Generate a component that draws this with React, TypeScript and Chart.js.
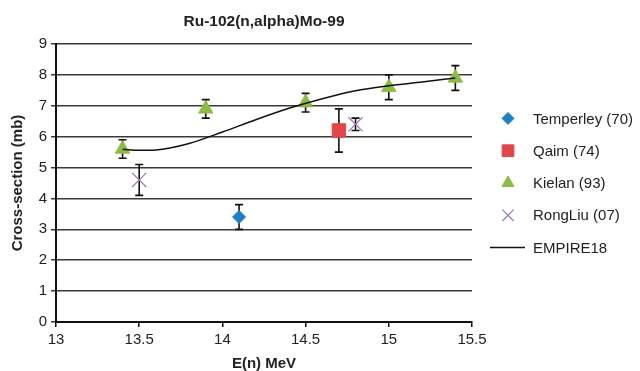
import React, { useEffect, useRef } from 'react';
import Chart from 'chart.js/auto';
import { drawPoint } from 'chart.js/helpers';

// ---- data ----
const chartTitle = 'Ru-102(n,alpha)Mo-99';
const xTitle = 'E(n) MeV';
const yTitle = 'Cross-section (mb)';
const xTickValues = [13, 13.5, 14, 14.5, 15, 15.5];
const yTickValues = [0, 1, 2, 3, 4, 5, 6, 7, 8, 9];

const temperleyX = [14.1];
const temperleyY = [3.4];
const temperleyErr = [0.4];

const qaimX = [14.7];
const qaimY = [6.2];
const qaimErr = [0.7];

const kielanX = [13.4, 13.9, 14.5, 15.0, 15.4];
const kielanY = [5.6, 6.9, 7.1, 7.6, 7.9];
const kielanErr = [0.3, 0.3, 0.3, 0.4, 0.4];

const rongLiuX = [13.5, 14.8];
const rongLiuY = [4.6, 6.4];
const rongLiuErr = [0.5, 0.2];

const empireX = [13.4, 13.5, 13.6, 13.8, 14.0, 14.2, 14.4, 14.6, 14.8, 15.0, 15.2, 15.4];
const empireY = [5.59, 5.56, 5.57, 5.78, 6.15, 6.55, 6.92, 7.23, 7.49, 7.65, 7.77, 7.9];

const seriesNames = ['Temperley (70)', 'Qaim (74)', 'Kielan (93)', 'RongLiu (07)', 'EMPIRE18'];

const FONT = '"Liberation Sans", Arial, Helvetica, sans-serif';

const zip = (xs: number[], ys: number[]) => xs.map((x, i) => ({ x, y: ys[i] }));

const errorBarPlugin = {
  id: 'errorBars',
  beforeDatasetsDraw(chart: any) {
    const { ctx, scales } = chart;
    const xs = scales.x;
    const ys = scales.y;
    ctx.save();
    ctx.strokeStyle = '#111';
    ctx.lineWidth = 1.6;
    chart.data.datasets.forEach((ds: any) => {
      if (!ds.errors) return;
      ds.data.forEach((p: any, i: number) => {
        const e = ds.errors[i];
        const px = xs.getPixelForValue(p.x);
        const top = ys.getPixelForValue(p.y + e);
        const bot = ys.getPixelForValue(p.y - e);
        const cap = 4;
        ctx.beginPath();
        ctx.moveTo(px, top);
        ctx.lineTo(px, bot);
        ctx.moveTo(px - cap, top);
        ctx.lineTo(px + cap, top);
        ctx.moveTo(px - cap, bot);
        ctx.lineTo(px + cap, bot);
        ctx.stroke();
      });
    });
    ctx.restore();
  },
};

const titleLegendPlugin = {
  id: 'titleLegend',
  afterDraw(chart: any) {
    const { ctx, chartArea } = chart;
    ctx.save();
    // title
    ctx.fillStyle = '#222';
    ctx.font = `bold 15.5px ${FONT}`;
    ctx.textAlign = 'center';
    ctx.textBaseline = 'middle';
    ctx.fillText(chartTitle, (chartArea.left + chartArea.right) / 2, 22);

    // legend
    const mx = chartArea.right + 36;
    const tx = chartArea.right + 61;
    const cy = (chartArea.top + chartArea.bottom) / 2;
    const gap = 32.3;
    ctx.font = `15px ${FONT}`;
    ctx.textAlign = 'left';
    chart.data.datasets.forEach((ds: any, i: number) => {
      const y = cy + (i - 2) * gap;
      if (ds.type === 'line') {
        ctx.strokeStyle = ds.borderColor;
        ctx.lineWidth = 1.5;
        ctx.beginPath();
        ctx.moveTo(chartArea.right + 18, y);
        ctx.lineTo(chartArea.right + 53, y);
        ctx.stroke();
      } else {
        ctx.fillStyle = ds.backgroundColor;
        ctx.strokeStyle = ds.borderColor;
        ctx.lineWidth = ds.borderWidth;
        const r = ds.legendRadius;
        drawPoint(ctx, { pointStyle: ds.pointStyle, radius: r, rotation: 0, borderWidth: ds.borderWidth }, mx, y);
      }
      ctx.fillStyle = '#222';
      ctx.fillText(seriesNames[i], tx, y + 1);
    });
    ctx.restore();
  },
};

export default function App() {
  const ref = useRef<HTMLCanvasElement | null>(null);

  useEffect(() => {
    document.body.style.margin = '0';
    const canvas = ref.current;
    if (!canvas) return;
    const chart = new Chart(canvas, {
      type: 'scatter',
      data: {
        datasets: [
          {
            label: seriesNames[0],
            data: zip(temperleyX, temperleyY),
            errors: temperleyErr,
            pointStyle: 'rectRot',
            radius: 6.5,
            legendRadius: 6,
            backgroundColor: '#1f7fc3',
            borderColor: '#1f7fc3',
            borderWidth: 1,
            order: 1,
          } as any,
          {
            label: seriesNames[1],
            data: zip(qaimX, qaimY),
            errors: qaimErr,
            pointStyle: 'rect',
            radius: 9.5,
            legendRadius: 8.3,
            backgroundColor: '#e1464b',
            borderColor: '#e1464b',
            borderWidth: 1,
            order: 1,
          } as any,
          {
            label: seriesNames[2],
            data: zip(kielanX, kielanY),
            errors: kielanErr,
            pointStyle: 'triangle',
            radius: 8.3,
            legendRadius: 7,
            backgroundColor: '#8dbb44',
            borderColor: '#8dbb44',
            borderWidth: 1,
            order: 1,
          } as any,
          {
            label: seriesNames[3],
            data: zip(rongLiuX, rongLiuY),
            errors: rongLiuErr,
            pointStyle: 'crossRot',
            radius: 10,
            legendRadius: 8,
            backgroundColor: '#9a78b8',
            borderColor: '#9a78b8',
            borderWidth: 1.2,
            order: 1,
          } as any,
          {
            type: 'line',
            label: seriesNames[4],
            data: zip(empireX, empireY),
            borderColor: '#111',
            backgroundColor: '#111',
            borderWidth: 1.5,
            pointRadius: 0,
            fill: false,
            cubicInterpolationMode: 'monotone',
            showLine: true,
            order: 0,
          } as any,
        ],
      },
      options: {
        animation: false,
        responsive: true,
        maintainAspectRatio: false,
        layout: { padding: { left: 0, right: 168, top: 44, bottom: 0 } },
        plugins: {
          legend: { display: false },
          title: { display: false },
          tooltip: { enabled: false },
        },
        scales: {
          x: {
            type: 'linear',
            min: 13,
            max: 15.5,
            afterBuildTicks: (s: any) => {
              s.ticks = xTickValues.map((v) => ({ value: v }));
            },
            afterFit: (s: any) => {
              s.height = 49;
            },
            ticks: {
              color: '#222',
              font: { family: FONT, size: 15 },
              padding: 4,
              maxRotation: 0,
              callback: (v: any) => String(v),
            },
            grid: {
              display: true,
              drawOnChartArea: false,
              drawTicks: true,
              tickLength: 5,
              color: '#111',
              lineWidth: 1.5,
            },
            border: { display: true, color: '#111', width: 2 },
            title: {
              display: true,
              text: xTitle,
              color: '#222',
              font: { family: FONT, size: 15, weight: 'bold', lineHeight: 1 },
              padding: { top: 0, bottom: 0 },
            },
          },
          y: {
            type: 'linear',
            min: 0,
            max: 9,
            afterBuildTicks: (s: any) => {
              s.ticks = yTickValues.map((v) => ({ value: v }));
            },
            afterFit: (s: any) => {
              s.width = 56;
            },
            ticks: {
              color: '#222',
              font: { family: FONT, size: 15 },
              padding: 4,
              callback: (v: any) => String(v),
            },
            grid: {
              display: true,
              drawOnChartArea: true,
              drawTicks: true,
              tickLength: 5,
              color: '#3a3a3a',
              lineWidth: 1.5,
            },
            border: { display: true, color: '#111', width: 2 },
            title: {
              display: true,
              text: yTitle,
              color: '#222',
              font: { family: FONT, size: 15, weight: 'bold', lineHeight: 1.2 },
              padding: { top: 8.5, bottom: 0 },
            },
          },
        },
      } as any,
      plugins: [errorBarPlugin, titleLegendPlugin],
    });
    return () => chart.destroy();
  }, []);

  return (
    <div style={{ position: 'fixed', left: 0, top: 0, width: 640, height: 371, background: '#fff' }}>
      <canvas ref={ref} />
    </div>
  );
}
